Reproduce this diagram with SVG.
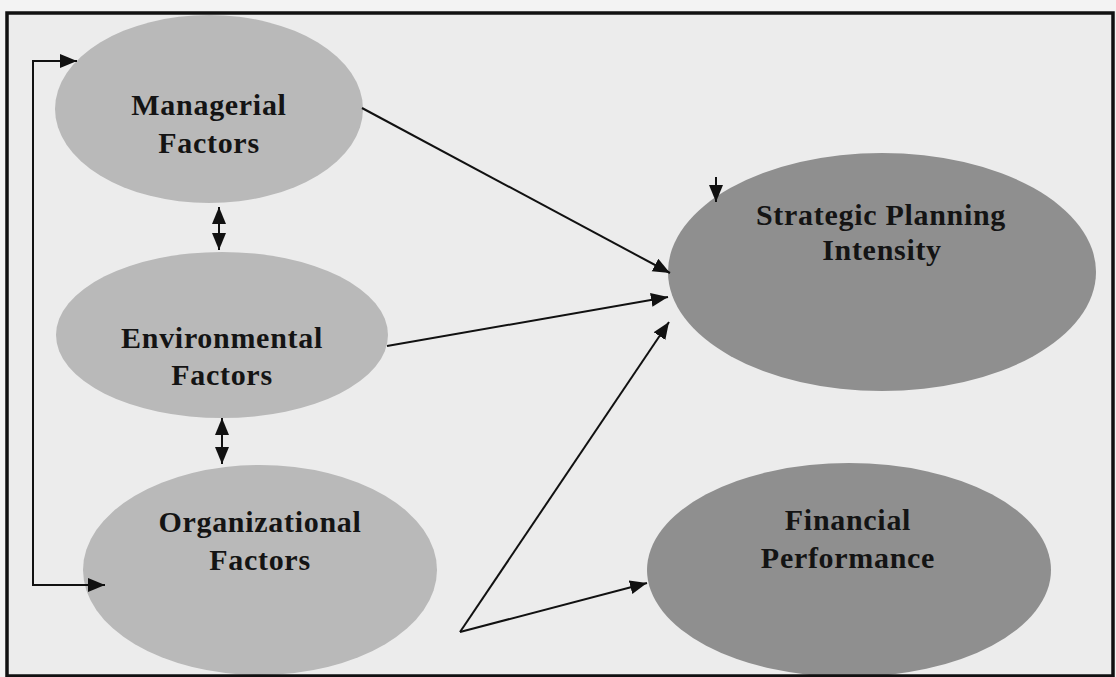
<svg xmlns="http://www.w3.org/2000/svg" width="1116" height="677" viewBox="0 0 1116 677">
  <style>
    .lt { fill: #b9b9b9; }
    .dk { fill: #8f8f8f; }
    .lbl { font-family: "Liberation Serif", "Times New Roman", serif; font-weight: bold; font-size: 30px; fill: #141414; text-anchor: middle; letter-spacing: 0.7px; }
    .con { fill: none; stroke: #111; stroke-width: 2; }
  </style>
  <defs>
    <marker id="ah" markerUnits="userSpaceOnUse" markerWidth="18" markerHeight="15" refX="17" refY="7" orient="auto-start-reverse">
      <path d="M0,0 L17,7 L0,14 z" fill="#111"/>
    </marker>
    <clipPath id="inner"><rect x="7" y="13" width="1106" height="663"/></clipPath>
  </defs>
  <rect x="0" y="0" width="1116" height="677" fill="#f3f3f3"/>
  <rect x="7" y="13" width="1106" height="663" fill="#ececec"/>
  <g clip-path="url(#inner)">
    <g id="managerial">
      <ellipse class="lt" cx="209" cy="109" rx="154" ry="94"/>
      <text class="lbl" x="209" y="115">Managerial</text>
      <text class="lbl" x="209" y="153">Factors</text>
    </g>
    <g id="environmental">
      <ellipse class="lt" cx="222" cy="335" rx="166" ry="83"/>
      <text class="lbl" x="222" y="348">Environmental</text>
      <text class="lbl" x="222" y="385">Factors</text>
    </g>
    <g id="organizational">
      <ellipse class="lt" cx="260" cy="570" rx="177" ry="105"/>
      <text class="lbl" x="260" y="532">Organizational</text>
      <text class="lbl" x="260" y="570">Factors</text>
    </g>
    <g id="strategic">
      <ellipse class="dk" cx="882" cy="272" rx="214" ry="119"/>
      <text class="lbl" x="881" y="225">Strategic Planning</text>
      <text class="lbl" x="882" y="260">Intensity</text>
    </g>
    <g id="financial">
      <ellipse class="dk" cx="849" cy="570" rx="202" ry="107"/>
      <text class="lbl" x="848" y="530">Financial</text>
      <text class="lbl" x="848" y="568">Performance</text>
    </g>
    <g id="connectors">
      <path class="con" d="M77,61 H33 V585 H105" marker-start="url(#ah)" marker-end="url(#ah)"/>
      <path class="con" d="M219,207 V250" marker-start="url(#ah)" marker-end="url(#ah)"/>
      <path class="con" d="M222,418 V464" marker-start="url(#ah)" marker-end="url(#ah)"/>
      <path class="con" d="M362,108 L670,273" marker-end="url(#ah)"/>
      <path class="con" d="M387,346 L668,297" marker-end="url(#ah)"/>
      <path class="con" d="M460,632 L669,322" marker-end="url(#ah)"/>
      <path class="con" d="M460,632 L647,583" marker-end="url(#ah)"/>
      <path class="con" d="M716,177 V202" marker-end="url(#ah)"/>
    </g>
  </g>
  <rect id="frame" x="7" y="13" width="1106" height="663" fill="none" stroke="#111" stroke-width="3.5"/>
</svg>
